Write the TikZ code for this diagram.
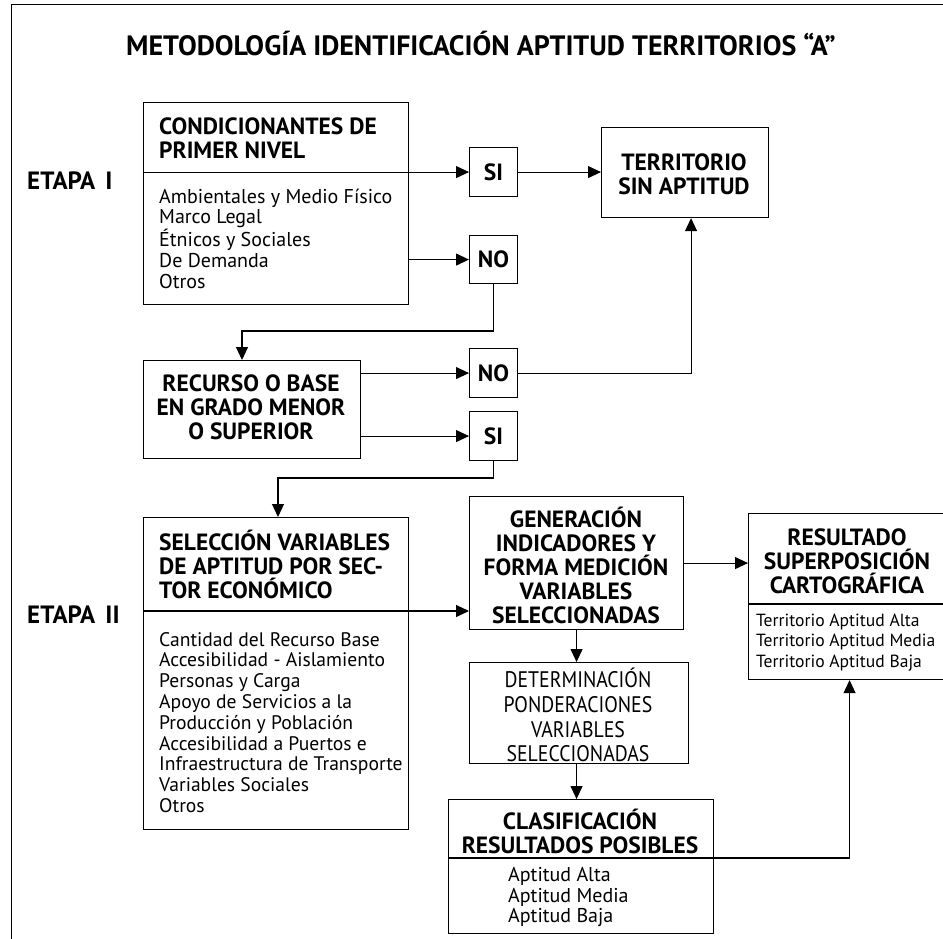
\documentclass[tikz,border=0pt]{standalone}
\usepackage{fontspec}
\setmainfont{PT Sans}
\newfontfamily\detfam{PT Sans}[FakeStretch=0.88]
\usetikzlibrary{arrows.meta}
\newcommand\hdf{\fontsize{23.5}{24}\selectfont\bfseries}
\newcommand\bdf{\fontsize{20}{20.8}\selectfont}
\tikzset{
  box/.style={draw, line width=1.1pt, inner sep=0, anchor=north west},
  lbl/.style={inner sep=0, align=left},
  ctr/.style={inner sep=0, align=center},
  conn/.style={line width=1.1pt, -{Triangle[length=13pt,width=12pt]}},
}
\begin{document}
\begin{tikzpicture}[x=1pt,y=-1pt]
\clip (0,0) rectangle (943,938);
\fill[white] (0,0) rectangle (943,938);
% frame
\draw[line width=1pt] (11,960) -- (11,4) -- (960,4);
% title
\node[ctr, font=\fontsize{28}{30}\selectfont\bfseries] (title) at (481,44) {METODOLOGÍA IDENTIFICACIÓN APTITUD TERRITORIOS “A”};
\node[lbl, anchor=west, font=\fontsize{25}{26}\selectfont\bfseries] (et1) at (27,181) {ETAPA\hspace{4pt} I};
\node[lbl, anchor=west, font=\fontsize{25}{26}\selectfont\bfseries] (et2) at (27,615) {ETAPA\hspace{4pt} II};
% boxes
\node[box, minimum width=265, minimum height=202] (cond) at (143,102) {};
\node[box, minimum width=48, minimum height=49] (si1) at (469,147) {};
\node[box, minimum width=167, minimum height=90] (terr) at (601,127) {};
\node[box, minimum width=48, minimum height=48] (no1) at (469,235) {};
\node[box, minimum width=217, minimum height=98] (rec) at (143,360) {};
\node[box, minimum width=48, minimum height=49] (no2) at (469,348) {};
\node[box, minimum width=48, minimum height=49] (si2) at (469,411) {};
\node[box, minimum width=265, minimum height=312] (sel) at (143,517) {};
\node[box, minimum width=214, minimum height=133] (gen) at (469,496) {};
\node[box, minimum width=210, minimum height=166] (res) at (748,513) {};
\node[box, minimum width=219, minimum height=101] (det) at (469,662) {};
\node[box, minimum width=265, minimum height=134] (clas) at (448,799) {};
% texts
\node[lbl, anchor=west, font=\hdf] (condh) at (159,138.5) {CONDICIONANTES DE\\PRIMER NIVEL};
\node[lbl, anchor=west, font=\bdf] (condb) at (159,238.5) {Ambientales y Medio Físico\\Marco Legal\\Étnicos y Sociales\\De Demanda\\Otros};
\node[ctr, font=\hdf] (si1t) at (si1.center) {SI};
\node[ctr, font=\hdf] (no1t) at (no1.center) {NO};
\node[ctr, font=\hdf] (no2t) at (no2.center) {NO};
\node[ctr, font=\hdf] (si2t) at (si2.center) {SI};
\node[ctr, font=\hdf] (terrt) at (684,174.5) {TERRITORIO\\SIN APTITUD};
\node[ctr, font=\hdf] (rect) at (251,407.5) {RECURSO O BASE\\EN GRADO MENOR\\O SUPERIOR};
\node[lbl, anchor=west, font=\hdf] (selh) at (159,564.5) {SELECCIÓN VARIABLES\\DE APTITUD POR SEC-\\TOR ECONÓMICO};
\node[lbl, anchor=west, font=\fontsize{19.6}{20.8}\selectfont] (selb) at (159,722.5) {Cantidad del Recurso Base\\Accesibilidad - Aislamiento\\Personas y Carga\\Apoyo de Servicios a la\\Producción y Población\\Accesibilidad a Puertos e\\Infraestructura de Transporte\\Variables Sociales\\Otros};
\node[ctr, font=\hdf] (gent) at (576,565) {GENERACIÓN\\INDICADORES Y\\FORMA MEDICIÓN\\VARIABLES\\SELECCIONADAS};
\node[ctr, font=\hdf] (resh) at (847,561.5) {RESULTADO\\SUPERPOSICIÓN\\CARTOGRÁFICA};
\node[lbl, anchor=west, font=\fontsize{17.6}{20.5}\selectfont] (resb) at (756,642.5) {Territorio Aptitud Alta\\Territorio Aptitud Media\\Territorio Aptitud Baja};
\node[ctr, font=\fontsize{22.5}{24.7}\selectfont\detfam] (dett) at (578,715) {DETERMINACIÓN\\PONDERACIONES\\VARIABLES\\SELECCIONADAS};
\node[ctr, font=\hdf] (clash) at (580,831) {CLASIFICACIÓN\\RESULTADOS POSIBLES};
\node[lbl, anchor=west, font=\bdf] (clasb) at (508,897) {Aptitud Alta\\Aptitud Media\\Aptitud Baja};
% coordinates
\coordinate (r1) at (242,331);
\coordinate (r2) at (278,478);
\coordinate (d2) at (143,611);
\coordinate (d3) at (448,858);
% dividers and connectors
\draw[conn] (cond.west |- si1.west) -- (si1.west);
\draw[conn] (si1.east) -- (si1.east -| terr.west);
\draw[conn] (cond.east |- no1.west) -- (no1.west);
\draw[conn] (no1.south) |- (r1) -- (r1 |- rec.north);
\draw[conn] (rec.east |- no2.west) -- (no2.west);
\draw[conn] (no2.east) -| ([xshift=6]terr.south);
\draw[conn] (rec.east |- si2.west) -- (si2.west);
\draw[conn] (si2.south) |- (r2) -- (r2 |- sel.north);
\draw[conn] (d2) -- (d2 -| gen.west);
\draw[conn] (gen.east) -- (gen.east -| res.west);
\draw[conn] (gen.south) -- (gen.south |- det.north);
\draw[conn] (gen.south |- det.south) -- (gen.south |- clas.north);
\draw[conn] (d3) -| ([xshift=-4]res.south);
\draw[line width=1.1pt] (res.west |- 0,604) -- (res.east |- 0,604);
\end{tikzpicture}
\end{document}
